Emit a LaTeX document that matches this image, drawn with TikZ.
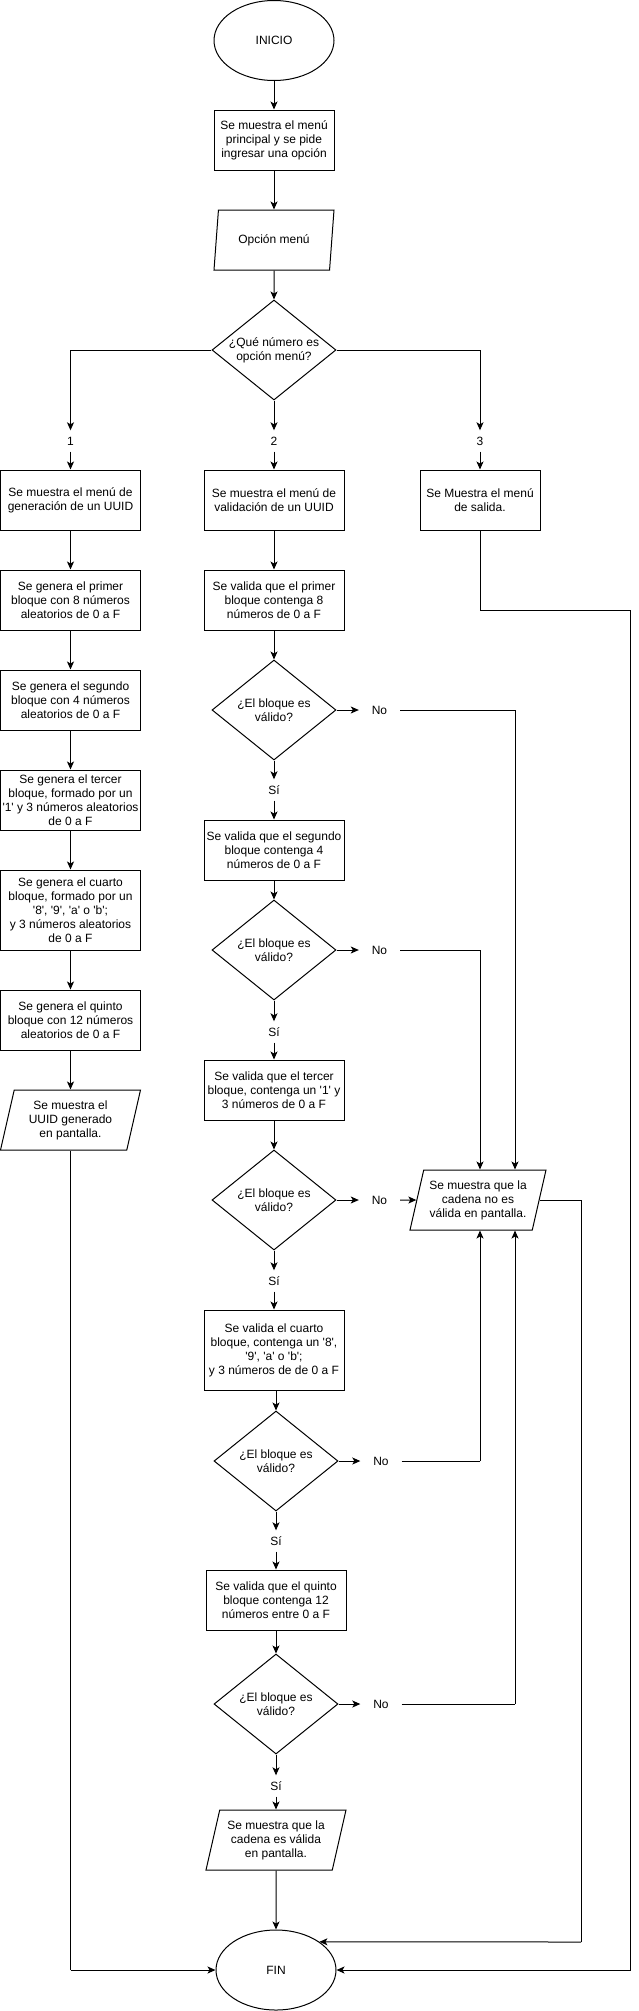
\documentclass[tikz,border=0pt]{standalone}
\usepackage{fontspec}
\setmainfont{Liberation Sans}
\usepackage{tikz}
\usetikzlibrary{shapes.geometric,arrows.meta}
\tikzstyle{terminal}=[ellipse,draw=black,line width=1.000,minimum width=120,minimum height=80,inner sep=0pt]
\tikzstyle{process}=[rectangle,draw=black,line width=1.000,minimum width=140,minimum height=60,inner sep=1pt,align=center]
\tikzstyle{inout}=[trapezium,trapezium left angle=71.57,trapezium right angle=108.43,trapezium stretches body,draw=black,line width=1.000,minimum width=140,minimum height=60,inner sep=1pt,align=center]
\tikzstyle{decision}=[diamond,draw=black,line width=1.000,aspect=1.24,minimum width=124,minimum height=100,inner sep=0pt,align=center]
\tikzstyle{edgetext}=[inner sep=0pt,minimum width=41,minimum height=21]
\tikzstyle{none}=[inner sep=0pt]
\tikzstyle{flow}=[-{Stealth[length=8pt,width=7pt,inset=2pt]},line width=1.000]
\tikzstyle{simple}=[-,line width=1.000]
\pgfdeclarelayer{edgelayer}
\pgfdeclarelayer{nodelayer}
\pgfsetlayers{edgelayer,nodelayer,main}
\newcommand{\sq}[1]{\textquotesingle#1\textquotesingle}

\begin{document}
\begin{tikzpicture}[x=1pt,y=-1pt,every node/.style={font=\fontsize{12}{14}\selectfont}]
	\useasboundingbox (0,0) rectangle (639,2011);
	\begin{pgfonlayer}{nodelayer}
		\node [style=terminal] (inicio) at (274, 40.5) {INICIO};
		\node [style=process, minimum width=120] (menu) at (274, 140) {Se muestra el menú\\principal y se pide\\ingresar una opción};
		\node [style=inout, minimum width=120] (opcion) at (274, 240) {Opción menú};
		\node [style=decision] (qnum) at (274, 350) {¿Qué número es\\opción menú?};

		\node [style=edgetext] (one) at (70.5, 441) {1};
		\node [style=edgetext] (two) at (274, 441) {2};
		\node [style=edgetext] (three) at (480, 441) {3};

		% generacion
		\node [style=process] (gen0) at (70.5, 500) {Se muestra el menú de\\generación de un UUID};
		\node [style=process] (gen1) at (70.5, 600) {Se genera el primer\\bloque con 8 números\\aleatorios de 0 a F};
		\node [style=process] (gen2) at (70.5, 700) {Se genera el segundo\\bloque con 4 números\\aleatorios de 0 a F};
		\node [style=process] (gen3) at (70.5, 800) {Se genera el tercer\\bloque, formado por un\\\sq{1} y 3 números aleatorios\\de 0 a F};
		\node [style=process, minimum height=80] (gen4) at (70.5, 910) {Se genera el cuarto\\bloque, formado por un\\\sq{8}, \sq{9}, \sq{a} o \sq{b};\\y 3 números aleatorios\\de 0 a F};
		\node [style=process] (gen5) at (70.5, 1020) {Se genera el quinto\\bloque con 12 números\\aleatorios de 0 a F};
		\node [style=inout] (genout) at (70.5, 1120) {Se muestra el\\UUID generado\\en pantalla.};

		% validacion
		\node [style=process] (val0) at (274, 500) {Se muestra el menú de\\validación de un UUID};
		\node [style=process] (val1) at (274, 600) {Se valida que el primer\\bloque contenga 8\\números de 0 a F};
		\node [style=decision] (dec1) at (274, 710) {¿El bloque es\\válido?};
		\node [style=edgetext] (no1) at (379.5, 710) {No};
		\node [style=edgetext] (si1) at (274, 790) {Sí};
		\node [style=process] (val2) at (274, 850) {Se valida que el segundo\\bloque contenga 4\\números de 0 a F};
		\node [style=decision] (dec2) at (274, 950) {¿El bloque es\\válido?};
		\node [style=edgetext] (no2) at (379.5, 950) {No};
		\node [style=edgetext] (si2) at (274, 1032) {Sí};
		\node [style=process] (val3) at (274, 1090) {Se valida que el tercer\\bloque, contenga un \sq{1} y\\3 números de 0 a F};
		\node [style=decision] (dec3) at (274, 1200) {¿El bloque es\\válido?};
		\node [style=edgetext] (no3) at (379.5, 1200) {No};
		\node [style=edgetext] (si3) at (274, 1281) {Sí};
		\node [style=process, minimum height=80] (val4) at (274, 1350) {Se valida el cuarto\\bloque, contenga un \sq{8},\\\sq{9}, \sq{a} o \sq{b};\\y 3 números de de 0 a F};
		\node [style=decision] (dec4) at (276, 1461) {¿El bloque es\\válido?};
		\node [style=edgetext] (no4) at (381, 1461) {No};
		\node [style=edgetext] (si4) at (276, 1541) {Sí};
		\node [style=process] (val5) at (276, 1600) {Se valida que el quinto\\bloque contenga 12\\números entre 0 a F};
		\node [style=decision] (dec5) at (276, 1704) {¿El bloque es\\válido?};
		\node [style=edgetext] (no5) at (381, 1704) {No};
		\node [style=edgetext] (si5) at (276, 1786) {Sí};
		\node [style=inout] (ok) at (276, 1840) {Se muestra que la\\cadena es válida\\en pantalla.};
		\node [style=inout, minimum width=136] (err) at (478, 1200) {Se muestra que la\\cadena no es\\válida en pantalla.};

		% salida
		\node [style=process, minimum width=120] (salida) at (480, 500) {Se Muestra el menú\\de salida.};
		\node [style=terminal] (fin) at (276, 1970) {FIN};

		% esquinas
		\node [style=none] (c1) at (70.5, 350) {};
		\node [style=none] (c3) at (480, 350) {};
		\node [style=none] (s1) at (480, 610) {};
		\node [style=none] (s2) at (630.5, 610) {};
		\node [style=none] (s3) at (630.5, 1970) {};
		\node [style=none] (g1) at (70.5, 1970) {};
		\node [style=none] (n1) at (515, 710) {};
		\node [style=none] (n2) at (480, 950) {};
		\node [style=none] (n4) at (480, 1461) {};
		\node [style=none] (n5) at (515, 1704) {};
		\node [style=none] (e1) at (581, 1200) {};
		\node [style=none] (e2) at (581, 1942) {};
	\end{pgfonlayer}
	\begin{pgfonlayer}{edgelayer}
		\draw [style=flow] (inicio) to (menu);
		\draw [style=flow] (menu) to (opcion);
		\draw [style=flow] (opcion) to (qnum);
		\draw [style=simple] (qnum) to (c1.center);
		\draw [style=flow] (c1.center) to (one);
		\draw [style=flow] (one) to (gen0);
		\draw [style=flow] (qnum) to (two);
		\draw [style=flow] (two) to (val0);
		\draw [style=simple] (qnum) to (c3.center);
		\draw [style=flow] (c3.center) to (three);
		\draw [style=flow] (three) to (salida);

		\draw [style=flow] (gen0) to (gen1);
		\draw [style=flow] (gen1) to (gen2);
		\draw [style=flow] (gen2) to (gen3);
		\draw [style=flow] (gen3) to (gen4);
		\draw [style=flow] (gen4) to (gen5);
		\draw [style=flow] (gen5) to (genout);
		\draw [style=simple] (genout) to (g1.center);
		\draw [style=flow] (g1.center) to (fin);

		\draw [style=flow] (val0) to (val1);
		\draw [style=flow] (val1) to (dec1);
		\draw [style=flow] (dec1) to (no1);
		\draw [style=simple] (no1) to (n1.center);
		\draw [style=flow] (n1.center) to (n1.center |- err.north);
		\draw [style=flow] (dec1) to (si1);
		\draw [style=flow] (si1) to (val2);
		\draw [style=flow] (val2) to (dec2);
		\draw [style=flow] (dec2) to (no2);
		\draw [style=simple] (no2) to (n2.center);
		\draw [style=flow] (n2.center) to (n2.center |- err.north);
		\draw [style=flow] (dec2) to (si2);
		\draw [style=flow] (si2) to (val3);
		\draw [style=flow] (val3) to (dec3);
		\draw [style=flow] (dec3) to (no3);
		\draw [style=flow] (no3) to (err);
		\draw [style=flow] (dec3) to (si3);
		\draw [style=flow] (si3) to (val4);
		\draw [style=flow] (val4.south -| dec4.north) to (dec4);
		\draw [style=flow] (dec4) to (no4);
		\draw [style=simple] (no4) to (n4.center);
		\draw [style=flow] (n4.center) to (n4.center |- err.south);
		\draw [style=flow] (dec4) to (si4);
		\draw [style=flow] (si4) to (val5);
		\draw [style=flow] (val5) to (dec5);
		\draw [style=flow] (dec5) to (no5);
		\draw [style=simple] (no5) to (n5.center);
		\draw [style=flow] (n5.center) to (n5.center |- err.south);
		\draw [style=flow] (dec5) to (si5);
		\draw [style=flow] (si5) to (ok);
		\draw [style=flow] (ok) to (fin);

		\draw [style=simple] (err) to (e1.center);
		\draw [style=simple] (e1.center) to (e2.center);
		\draw [style=flow] (e2.center) to (fin.33);

		\draw [style=simple] (salida) to (s1.center);
		\draw [style=simple] (s1.center) to (s2.center);
		\draw [style=simple] (s2.center) to (s3.center);
		\draw [style=flow] (s3.center) to (fin);
	\end{pgfonlayer}
\end{tikzpicture}
\end{document}
